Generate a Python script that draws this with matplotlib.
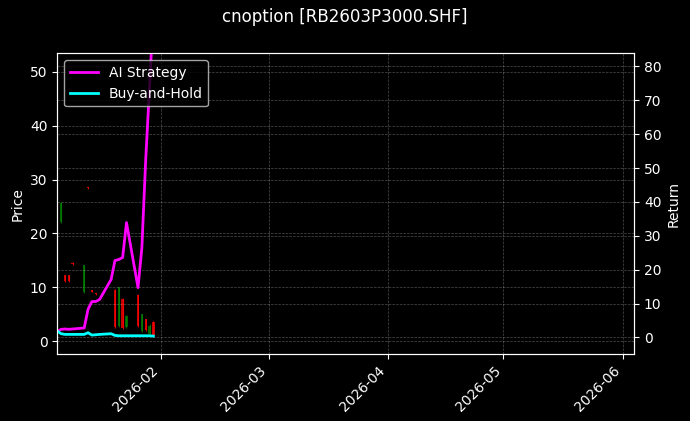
import numpy as np
import pandas as pd
import matplotlib
matplotlib.use("Agg")
import matplotlib.pyplot as plt
import matplotlib.dates as mdates

# trading days (Jan 2026)
dates = pd.to_datetime([
    "2026-01-05", "2026-01-06", "2026-01-07", "2026-01-08", "2026-01-09",
    "2026-01-12", "2026-01-13", "2026-01-14", "2026-01-15", "2026-01-16",
    "2026-01-19", "2026-01-20", "2026-01-21", "2026-01-22", "2026-01-23",
    "2026-01-26", "2026-01-27", "2026-01-28", "2026-01-29", "2026-01-30",
])

# candle data (nan = no bar)
opens = [np.nan, 22.2, 12.2, 12.2, 14.5, 9.1, 28.6, 9.4, 8.9, np.nan,
         np.nan, 9.5, 2.8, 7.8, 2.6, 8.5, 1.9, 4.1, 1.4, 3.6]
closes = [np.nan, 25.7, 11.1, 11.1, 14.3, 14.1, 28.4, 9.2, 8.7, np.nan,
          np.nan, 2.7, 10.0, 2.5, 4.7, 2.9, 5.0, 2.0, 2.9, 1.2]
highs = [np.nan, 25.8, 12.3, 12.3, 14.6, 14.2, 28.7, 9.5, 9.0, np.nan,
         np.nan, 9.7, 10.1, 8.0, 4.8, 8.7, 5.1, 4.2, 3.1, 3.7]
lows = [np.nan, 22.0, 11.0, 11.0, 14.2, 9.0, 28.3, 9.1, 8.6, np.nan,
        np.nan, 2.5, 2.6, 2.2, 2.5, 2.7, 1.7, 1.8, 1.3, 0.9]

# cumulative returns
strategy = [1.8, 2.4, 2.5, 2.4, 2.5, 2.8, 8.3, 10.6, 10.6, 11.2,
            17.1, 22.7, 23.0, 23.6, 33.9, 14.7, 26.5, 52.5, 74.0, 96.0]
buy_hold = [1.9, 1.1, 0.9, 0.9, 0.9, 0.9, 1.4, 0.7, 0.8, 0.9,
            1.1, 0.6, 0.5, 0.5, 0.5, 0.5, 0.5, 0.5, 0.5, 0.4]

plt.style.use("dark_background")
fig = plt.figure(figsize=(6.9, 4.21), dpi=100)
ax = fig.add_axes([0.083, 0.159, 0.836, 0.714])
ax2 = ax.twinx()

x = mdates.date2num(dates)
o = np.array(opens)
c = np.array(closes)
h = np.array(highs)
l = np.array(lows)
ok = ~np.isnan(o)
up = ok & (c >= o)
dn = ok & (c < o)
for m, col in [(up, "green"), (dn, "red")]:
    ax.vlines(x[m], l[m], h[m], color=col, linewidth=0.8, alpha=0.8)
    ax.bar(x[m], c[m] - o[m], bottom=o[m], width=0.6, color=col, alpha=0.8)

ax2.plot(dates, strategy, color="magenta", linewidth=2, label="AI Strategy")
ax2.plot(dates, buy_hold, color="cyan", linewidth=2, label="Buy-and-Hold")

ax.set_xlim(pd.Timestamp("2026-01-05"), pd.Timestamp("2026-06-04"))
ax.set_ylim(-2.4, 53.4)
ax2.set_ylim(-4.9, 83.8)
ax.set_yticks(np.arange(0, 51, 10))
ax2.set_yticks(np.arange(0, 81, 10))

ax.xaxis.set_major_locator(mdates.MonthLocator())
ax.xaxis.set_major_formatter(mdates.DateFormatter("%Y-%m"))
plt.setp(ax.get_xticklabels(), rotation=45, ha="right")

ax.grid(True, linestyle="--", linewidth=0.5, alpha=0.3)
ax2.grid(True, linestyle="--", linewidth=0.5, alpha=0.3)

ax.set_ylabel("Price")
ax2.set_ylabel("Return")
ax2.legend(loc="upper left")
fig.suptitle("cnoption [RB2603P3000.SHF]", fontsize=12)

fig.savefig("out.png", dpi=100)
